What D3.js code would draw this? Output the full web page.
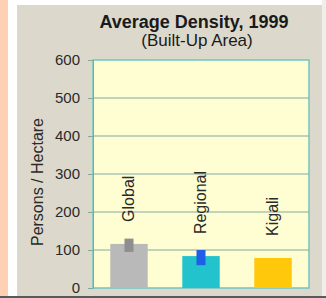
<!DOCTYPE html>
<html><head><meta charset="utf-8">
<script src="https://cdn.jsdelivr.net/npm/d3@7"></script>
<style>html,body{margin:0;padding:0;background:#fff;}svg{display:block;}</style>
</head><body>
<svg id="c" width="326" height="298"></svg>
<script>
const categories = ["Global", "Regional", "Kigali"];
const values = [116, 84, 79];
const errLow = [95, 60, null];
const errHigh = [130, 100, null];
const barColors = ["#b9b9b9", "#22c3cc", "#ffc80a"];
const errColors = ["#8e8e8e", "#1f5fe6", null];
const yTicks = [0, 100, 200, 300, 400, 500, 600];
const title = "Average Density, 1999";
const subtitle = "(Built-Up Area)";
const yTitle = "Persons / Hectare";

const FONT = "Arial, 'Liberation Sans', sans-serif";
const svg = d3.select("#c");
// background strips
svg.append("rect").attr("x",0).attr("y",0).attr("width",8).attr("height",298).attr("fill","#ffd0b4");
svg.append("rect").attr("x",17).attr("y",5).attr("width",305).attr("height",291).attr("fill","#dcd9cc");
svg.append("rect").attr("x",322).attr("y",0).attr("width",4).attr("height",296).attr("fill","#eeeeea");
svg.append("rect").attr("x",0).attr("y",296).attr("width",326).attr("height",2).attr("fill","#5a5a5a");

const L = 93, R = 309, T = 60, B = 288;
const x = d3.scaleBand().domain(categories).range([L, R]).paddingInner(0.48).paddingOuter(0.24);
const y = d3.scaleLinear().domain([0, 600]).range([B, T]);

svg.append("rect").attr("x",L).attr("y",T).attr("width",R-L).attr("height",B-T)
  .attr("fill","#fffdd2").attr("stroke","#72c6c0").attr("stroke-width",1.5);

// gridlines
svg.append("g").selectAll("line").data(yTicks.filter(d=>d>0 && d<600)).join("line")
  .attr("x1",L).attr("x2",R).attr("y1",d=>y(d)).attr("y2",d=>y(d))
  .attr("stroke","#7eaaa0").attr("stroke-width",1);

// axis
const ax = svg.append("g").attr("transform",`translate(${L},0)`)
  .call(d3.axisLeft(y).tickValues(yTicks).tickSize(5).tickPadding(8));
ax.select(".domain").attr("stroke","#7eaaa0");
ax.selectAll(".tick line").attr("stroke","#7eaaa0");
ax.selectAll("text").attr("font-family",FONT).attr("font-size",15).attr("fill","#2a2a2a");

// bars
svg.append("g").selectAll("rect").data(categories).join("rect")
  .attr("x",d=>x(d)).attr("width",x.bandwidth())
  .attr("y",(d,i)=>y(values[i])).attr("height",(d,i)=>y(0)-y(values[i]))
  .attr("fill",(d,i)=>barColors[i]);

// error bars
svg.append("g").selectAll("rect").data(categories.filter((d,i)=>errLow[i]!=null)).join("rect")
  .attr("x",d=>x(d)+x.bandwidth()/2-4.5).attr("width",9)
  .attr("y",d=>y(errHigh[categories.indexOf(d)]))
  .attr("height",d=>{const i=categories.indexOf(d);return y(errLow[i])-y(errHigh[i]);})
  .attr("fill",d=>errColors[categories.indexOf(d)]);

// category labels
svg.append("g").selectAll("text").data(categories).join("text")
  .attr("transform",(d,i)=>`translate(${x(d)+x.bandwidth()/2+5},${y(values[i])-22}) rotate(-90)`)
  .attr("font-family",FONT).attr("font-size",16).attr("fill","#2a2a2a")
  .text(d=>d);

// titles
svg.append("text").attr("x",194).attr("y",28).attr("text-anchor","middle")
  .attr("font-family",FONT).attr("font-size",18).attr("font-weight","bold").attr("fill","#1a1a1a").text(title);
svg.append("text").attr("x",197).attr("y",46).attr("text-anchor","middle")
  .attr("font-family",FONT).attr("font-size",17).attr("fill","#1a1a1a").text(subtitle);
svg.append("text").attr("transform",`translate(43,182) rotate(-90)`).attr("text-anchor","middle")
  .attr("font-family",FONT).attr("font-size",16).attr("fill","#2a2a2a").text(yTitle);
</script>
</body></html>
